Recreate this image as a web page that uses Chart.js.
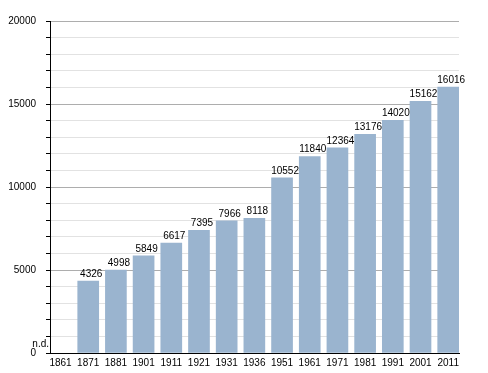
<!DOCTYPE html>
<html lang="en">
<head>
  <meta charset="UTF-8" />
  <title>Population</title>
  <script src="https://cdn.jsdelivr.net/npm/chart.js"></script>
  <style>
    body { margin: 0; background: #fff; }
    canvas { display: block; }
  </style>
</head>
<body>
  <canvas id="popChart" width="488" height="373"></canvas>

  <script>
    const years = ['1861', '1871', '1881', '1901', '1911', '1921', '1931', '1936',
                   '1951', '1961', '1971', '1981', '1991', '2001', '2011'];
    const population = [null, 4326, 4998, 5849, 6617, 7395, 7966, 8118,
                        10552, 11840, 12364, 13176, 14020, 15162, 16016];
    const yTicks = [0, 5000, 10000, 15000, 20000];

    const FONT = '"Liberation Sans", Arial, sans-serif';

    // value labels over the bars, "n.d." for the missing year
    const valueLabels = {
      id: 'valueLabels',
      afterDatasetsDraw(chart) {
        const ctx = chart.ctx;
        const meta = chart.getDatasetMeta(0);
        const yScale = chart.scales.y;
        ctx.save();
        ctx.font = '10px ' + FONT;
        ctx.fillStyle = '#000';
        ctx.textBaseline = 'alphabetic';
        meta.data.forEach((bar, i) => {
          const v = population[i];
          if (v === null) {
            ctx.textAlign = 'right';
            ctx.fillText('n.d.', chart.chartArea.left - 1, yScale.getPixelForValue(0) - 6);
          } else {
            ctx.textAlign = 'center';
            ctx.fillText(String(v), bar.x + 3, bar.y - 4);
          }
        });
        ctx.restore();
      }
    };

    new Chart(document.getElementById('popChart'), {
      type: 'bar',
      data: {
        datasets: [{
          data: population.map((v, i) => ({ x: i, y: v })),
          backgroundColor: '#9ab4cf',
          borderWidth: 0,
          barThickness: 21
        }]
      },
      options: {
        responsive: false,
        animation: false,
        layout: { padding: { top: 21, right: 29, left: 0, bottom: 0 } },
        plugins: {
          legend: { display: false },
          tooltip: { enabled: false }
        },
        scales: {
          x: {
            type: 'linear',
            offset: false,
            min: -0.38,
            max: 14.39,
            grid: { display: false, drawTicks: false, offset: false },
            border: { color: '#000', width: 1 },
            afterBuildTicks(scale) {
              scale.ticks = years.map((_, i) => ({ value: i }));
            },
            ticks: {
              color: '#000',
              font: { family: FONT, size: 10 },
              padding: 4,
              maxRotation: 0,
              autoSkip: false,
              callback: v => years[v]
            },
            afterFit(scale) { scale.height = 20; }
          },
          y: {
            min: 0,
            max: 20000,
            border: { color: '#000', width: 1 },
            grid: {
              color: ctx => (yTicks.includes(ctx.tick.value) ? '#adadad' : '#e2e2e2'),
              tickColor: '#000',
              tickLength: 4
            },
            ticks: {
              stepSize: 1000,
              color: '#000',
              font: { family: FONT, size: 10 },
              padding: 10,
              callback: v => (yTicks.includes(v) ? String(v) : '')
            },
            afterFit(scale) { scale.width = 50; }
          }
        }
      },
      plugins: [valueLabels]
    });
  </script>
</body>
</html>
